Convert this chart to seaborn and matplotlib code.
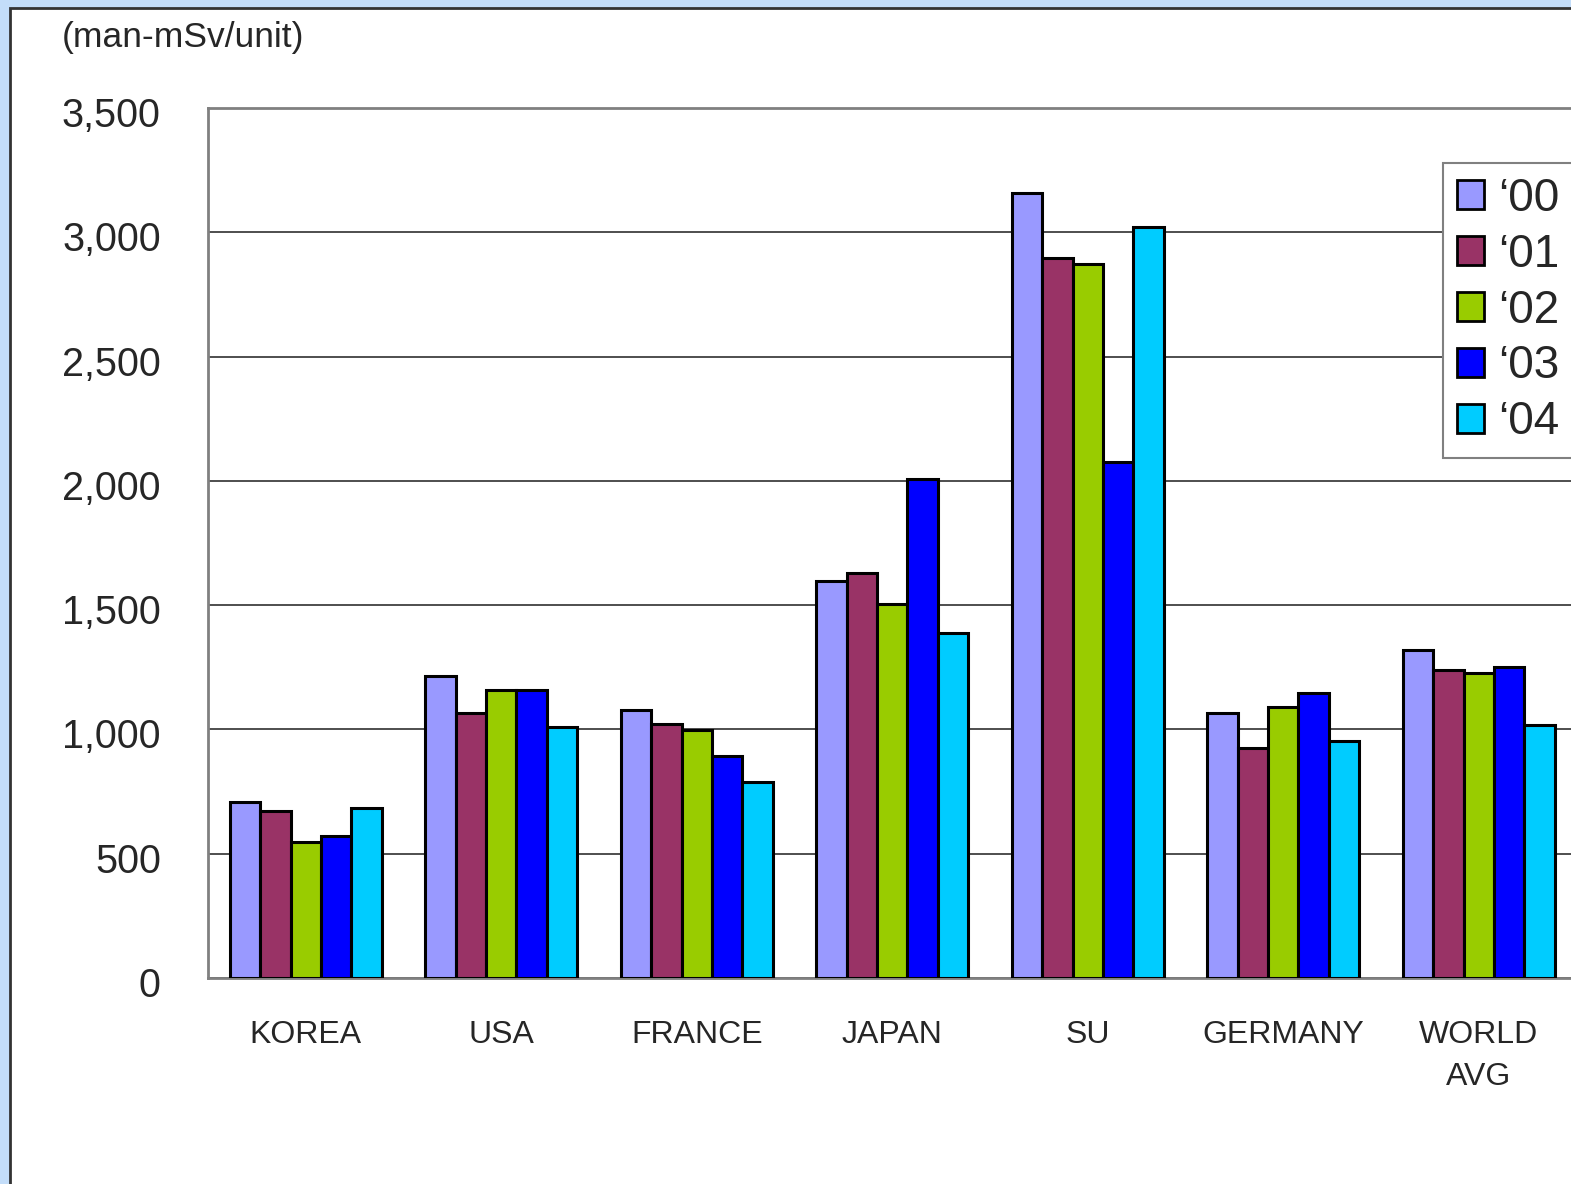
import matplotlib
matplotlib.use("Agg")
import matplotlib.pyplot as plt
import matplotlib.transforms as mtransforms
from matplotlib.patches import Rectangle, Patch
import seaborn as sns
import pandas as pd

# Collective dose per reactor unit, by country and year
countries = ["KOREA", "USA", "FRANCE", "JAPAN", "SU", "GERMANY", "WORLD\nAVG"]
years = ["\u201800", "\u201801", "\u201802", "\u201803", "\u201804"]
dose_00 = [710, 1214, 1077, 1597, 3157, 1065, 1319]
dose_01 = [673, 1065, 1020, 1629, 2895, 927, 1238]
dose_02 = [548, 1157, 996, 1504, 2871, 1089, 1226]
dose_03 = [573, 1157, 895, 2008, 2077, 1145, 1250]
dose_04 = [685, 1008, 790, 1387, 3020, 952, 1016]
year_colors = ["#9999FF", "#993366", "#99CC00", "#0000FF", "#00CCFF"]
y_ticks = [0, 500, 1000, 1500, 2000, 2500, 3000, 3500]
y_ticklabels = ["0", "500", "1,000", "1,500", "2,000", "2,500", "3,000", "3,500"]

series = [dose_00, dose_01, dose_02, dose_03, dose_04]
df = pd.DataFrame(
    [(c, yr, v) for yr, vals in zip(years, series) for c, v in zip(countries, vals)],
    columns=["country", "year", "dose"],
)

sns.set_style("white")
plt.rcParams["font.family"] = ["Liberation Sans", "DejaVu Sans"]

W, H = 1571, 1184
fig = plt.figure(figsize=(W / 100, H / 100), dpi=100, facecolor="#C3DDF9")

# white panel with dark frame, behind everything
fig.patches.append(Rectangle((9.5 / W, -0.05), 1.2, 1.05 - 7.5 / H,
                             transform=fig.transFigure, facecolor="white",
                             edgecolor="#333333", linewidth=2, zorder=-5))

ax = fig.add_axes([208 / W, 1 - 978 / H, 1368.5 / W, 870 / H])
ax.set_zorder(1)
ax.set_facecolor("white")

sns.barplot(data=df, x="country", y="dose", hue="year", order=countries,
            hue_order=years, palette=year_colors, saturation=1, width=0.78,
            edgecolor="black", linewidth=2.2, errorbar=None, ax=ax, zorder=3)

ax.set_xlim(-0.5, len(countries) - 0.5)
ax.set_ylim(0, 3500)
ax.set_yticks(y_ticks)
ax.set_yticklabels(y_ticklabels, fontsize=28.5)
ax.yaxis.grid(True, color="#404040", linewidth=1.3, zorder=0)
ax.set_axisbelow(True)
ax.set_xlabel("")
ax.set_ylabel("")

ax.set_xticks(range(len(countries)))
ax.set_xticklabels(countries, fontsize=23, linespacing=1.55)
ax.set_xticks([i + 0.5 for i in range(len(countries) - 1)], minor=True)
ax.tick_params(axis="x", which="major", length=0, pad=30)
ax.tick_params(axis="x", which="minor", direction="in", length=7,
               color="#808080", width=1.5)
ax.tick_params(axis="y", which="major", direction="in", length=8,
               color="#404040", width=1.5, pad=34)

# y labels sit slightly below their gridlines
shift = mtransforms.ScaledTranslation(0, -4 / 100, fig.dpi_scale_trans)
for lab in ax.get_yticklabels():
    lab.set_transform(lab.get_transform() + shift)

for side in ["left", "top", "bottom", "right"]:
    ax.spines[side].set_visible(True)
    ax.spines[side].set_color("#808080")
    ax.spines[side].set_linewidth(2)

if ax.get_legend():
    ax.get_legend().remove()
handles = [Patch(facecolor=c, edgecolor="black", linewidth=2) for c in year_colors]
leg = fig.legend(handles, years, loc="upper left",
                 bbox_to_anchor=(1443 / W, 1 - 163 / H),
                 fontsize=33, frameon=True, fancybox=False, shadow=False,
                 framealpha=1, handlelength=0.6, handleheight=0.6,
                 handletextpad=0.3, labelspacing=0.26, borderpad=0.3,
                 borderaxespad=0)
leg.set_zorder(5)
leg.get_frame().set_edgecolor("#808080")
leg.get_frame().set_linewidth(1.5)
leg.get_frame().set_facecolor("white")

fig.text(62 / W, 1 - 38 / H, "(man-mSv/unit)", fontsize=25.5, va="center", ha="left")

fig.savefig("out.png", dpi=100, facecolor=fig.get_facecolor())
